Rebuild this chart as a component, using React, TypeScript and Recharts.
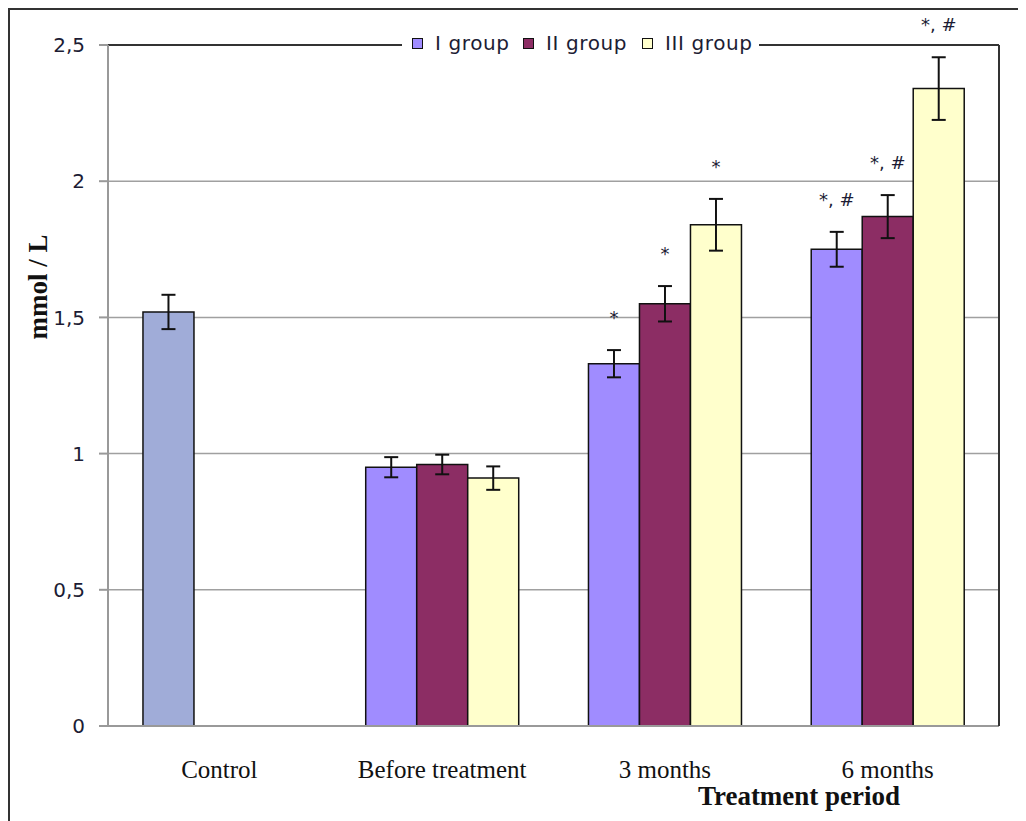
import React from 'react'
import {
  BarChart, Bar, XAxis, YAxis, CartesianGrid, ErrorBar,
  Legend, LabelList, Cell, ReferenceLine
} from 'recharts'

const categories = ['Control', 'Before treatment', '3 months', '6 months']
const groupI = [1.52, 0.95, 1.33, 1.75]
const groupII = [null, 0.96, 1.55, 1.87]
const groupIII = [null, 0.91, 1.84, 2.34]
const errI = [0.063, 0.037, 0.05, 0.064]
const errII = [null, 0.036, 0.065, 0.079]
const errIII = [null, 0.043, 0.095, 0.115]
const marksI = ['', '', '*', '*, #']
const marksII = ['', '', '*', '*, #']
const marksIII = ['', '', '*', '*, #']
const yTicks = [0, 0.5, 1, 1.5, 2, 2.5]

const data = categories.map((name, i) => ({
  name,
  g1: groupI[i], e1: errI[i],
  g2: groupII[i], e2: errII[i],
  g3: groupIII[i], e3: errIII[i],
}))

const COLORS = { control: '#a0acd8', g1: '#a08cff', g2: '#8c2d64', g3: '#ffffcc' }
const INK = '#1c1c34'
const SANS = '"DejaVu Sans", Verdana, sans-serif'
const SERIF = '"Liberation Serif", "Times New Roman", serif'

const fmt = (v: number) => String(v).replace('.', ',')

// LabelList skips null entries, so look the category up by value
const markLabel = (values: (number | null)[], marks: string[], errs: (number | null)[]) =>
  (props: any) => {
    const { x, y, width, height, value } = props
    if (value == null) return null
    const i = values.indexOf(Number(value))
    const m = marks[i]
    if (!m) return null
    const pxPerUnit = height / value
    const top = y - (errs[i] ?? 0) * pxPerUnit
    return (
      <text x={x + width / 2} y={top - 26} textAnchor="middle" fontSize={18}
        fontFamily={SANS} fill={INK}>{m}</text>
    )
  }

const legendItems = [
  { label: 'I group', color: COLORS.g1, w: 88 },
  { label: 'II group', color: COLORS.g2, w: 96 },
  { label: 'III group', color: COLORS.g3, w: 94 },
]

const LegendBox = () => (
  <div style={{
    display: 'flex', alignItems: 'center', background: '#fff',
    padding: '2px 0 2px 10px', fontFamily: SANS, fontSize: 20, color: INK,
    letterSpacing: 0.6,
  }}>
    {legendItems.map((it) => (
      <div key={it.label} style={{ display: 'flex', alignItems: 'center' }}>
        <span style={{
          display: 'inline-block', width: 9, height: 9, background: it.color,
          border: '1px solid #111', marginRight: 12,
        }} />
        <span style={{ display: 'inline-block', width: it.w }}>{it.label}</span>
      </div>
    ))}
  </div>
)

export default function App() {
  return (
    <div style={{
      width: 1018, height: 813, borderLeft: '2px solid #333', borderTop: '2px solid #333',
      boxSizing: 'border-box', background: '#fff',
    }}>
      <BarChart width={1016} height={811} data={data}
        margin={{ top: 35, right: 0, bottom: 0, left: 0 }}
        barCategoryGap="15.7%" barGap={0}>
        <CartesianGrid vertical={false} stroke="#a0a0a0" strokeWidth={1.5} />
        <XAxis dataKey="name" height={95} tickLine={false}
          axisLine={{ stroke: '#999', strokeWidth: 2 }} tickMargin={28}
          tick={{ fontSize: 25, fontFamily: SERIF, fill: '#111' }}
          label={{
            content: () => (
              <text x={789} y={795} textAnchor="middle" fontSize={27} fontWeight="bold"
                fontFamily={SERIF} fill="#111">Treatment period</text>
            ),
          }} />
        <YAxis width={98} domain={[0, 2.5]} ticks={yTicks} tickFormatter={fmt}
          tickSize={9} tickMargin={14} interval={0}
          axisLine={{ stroke: '#999', strokeWidth: 2 }} tickLine={{ stroke: '#999', strokeWidth: 2 }}
          tick={{ fontSize: 20, fontFamily: SANS, fill: INK }}
          label={{
            content: () => (
              <text x={0} y={0} transform="translate(37 277) rotate(-90)" textAnchor="middle"
                fontSize={27} fontWeight="bold" fontFamily={SERIF} fill="#111">mmol / L</text>
            ),
          }} />
        <YAxis yAxisId="frame" orientation="right" width={27} domain={[0, 2.5]}
          tick={false} tickLine={false} axisLine={{ stroke: '#333', strokeWidth: 2 }} />
        <ReferenceLine y={2.5} stroke="#333" strokeWidth={2} />
        <Legend verticalAlign="middle" align="center" content={<LegendBox />}
          wrapperStyle={{ top: 19, left: 392, width: 'auto' }} />
        <Bar dataKey="g1" name="I group" fill={COLORS.g1} stroke="#111" strokeWidth={1.5}
          isAnimationActive={false}>
          {data.map((d, i) => (
            <Cell key={d.name} fill={i === 0 ? COLORS.control : COLORS.g1} />
          ))}
          <ErrorBar dataKey="e1" width={7} stroke="#111" strokeWidth={2} />
          <LabelList dataKey="g1" content={markLabel(groupI, marksI, errI)} />
        </Bar>
        <Bar dataKey="g2" name="II group" fill={COLORS.g2} stroke="#111" strokeWidth={1.5}
          isAnimationActive={false}>
          <ErrorBar dataKey="e2" width={7} stroke="#111" strokeWidth={2} />
          <LabelList dataKey="g2" content={markLabel(groupII, marksII, errII)} />
        </Bar>
        <Bar dataKey="g3" name="III group" fill={COLORS.g3} stroke="#111" strokeWidth={1.5}
          isAnimationActive={false}>
          <ErrorBar dataKey="e3" width={7} stroke="#111" strokeWidth={2} />
          <LabelList dataKey="g3" content={markLabel(groupIII, marksIII, errIII)} />
        </Bar>
      </BarChart>
    </div>
  )
}
